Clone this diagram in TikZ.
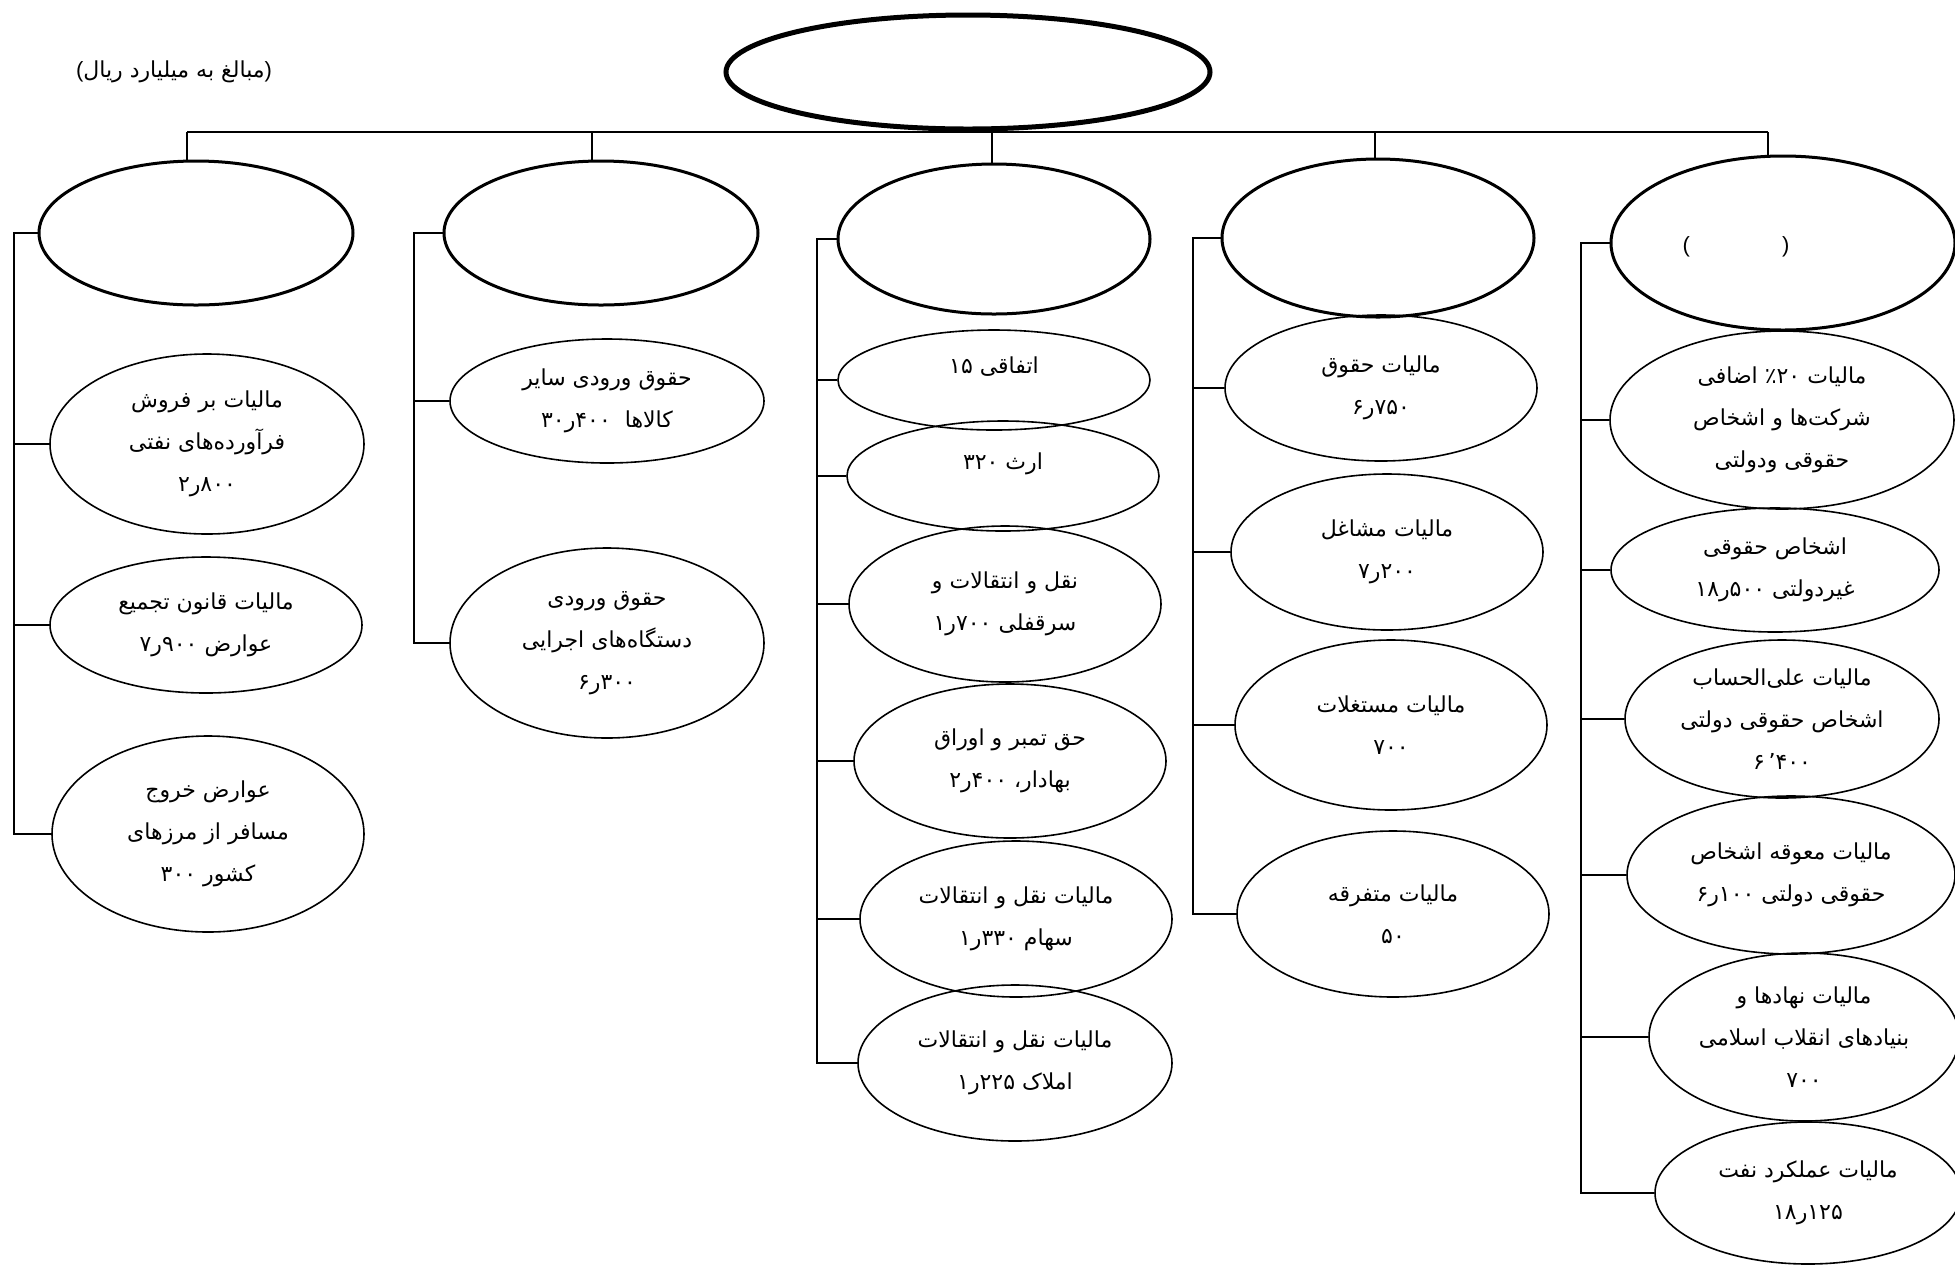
\documentclass[tikz,border=0pt]{standalone}
\usepackage{fontspec}
\usetikzlibrary{shapes.geometric}
\TeXXeTstate=1
\newfontfamily\arfont[Script=Arabic]{DejaVu Sans}
\newfontfamily\latfont{Liberation Sans}
\newcommand{\RL}[1]{\mbox{\beginR #1\endR}}
\newcommand{\dg}[1]{\mbox{#1}}
\newcommand{\sr}{\mbox{ر}}
\begin{document}
\begin{tikzpicture}[x=0.5pt,y=-0.5pt,
  root/.style={ellipse,draw,line width=2.5pt,inner sep=0pt},
  head/.style={ellipse,draw,line width=1.5pt,inner sep=0pt},
  leaf/.style={ellipse,draw,line width=0.8pt,inner sep=0pt,align=center,
    font=\arfont\fontsize{11}{21}\selectfont},
  lbl/.style={inner sep=0pt,font=\arfont\fontsize{11}{21}\selectfont},
  conn/.style={line width=1pt}]
\useasboundingbox (0,0) rectangle (1955,1266);
\fill[white] (0,0) rectangle (1955,1266);

% title note
\node[lbl] (note) at (174,72) {{\latfont(}\RL{مبالغ به میلیارد ریال}{\latfont)}};

% root
\node[root,minimum width=242pt,minimum height=57pt] (R) at (968,72) {};

% level 2
\node[head,minimum width=157pt,minimum height=72pt] (A) at (196,233) {};
\node[head,minimum width=157pt,minimum height=72pt] (B) at (601,233) {};
\node[head,minimum width=156pt,minimum height=75pt] (C) at (994,239) {};
\node[head,minimum width=156pt,minimum height=79pt] (D) at (1378,238) {};
\node[head,minimum width=172pt,minimum height=87pt] (E) at (1783,243) {};
\node[lbl] (Ep) at (1736,247) {\latfont(\hspace{46pt})};

% bus with ticks
\coordinate (ta) at (187,0);
\coordinate (tb) at (592,0);
\coordinate (tc) at (992,0);
\coordinate (td) at (1375,0);
\coordinate (te) at (1768,0);
\draw[conn] (ta |- R.south) -- (te |- R.south);
\draw[conn] (A.north -| ta) -- (ta |- R.south);
\draw[conn] (B.north -| tb) -- (tb |- R.south);
\draw[conn] (C.north -| tc) -- (tc |- R.south);
\draw[conn] (D.north -| td) -- (td |- R.south);
\draw[conn] (E.north -| te) -- (te |- R.south);

% column A
\node[leaf,minimum width=157pt,minimum height=90pt] (A1) at (207,444)
  {\RL{مالیات بر فروش}\\ \RL{فرآورده‌های نفتی}\\ \dg{۲}\sr\dg{۸۰۰}};
\node[leaf,minimum width=156pt,minimum height=68pt] (A2) at (206,625)
  {\RL{مالیات قانون تجمیع}\\ \dg{۷}\sr\dg{۹۰۰}\ \RL{عوارض}};
\node[leaf,minimum width=156pt,minimum height=98pt] (A3) at (208,834)
  {\RL{عوارض خروج}\\ \RL{مسافر از مرزهای}\\ \dg{۳۰۰}\ \RL{کشور}};

% column B
\node[leaf,minimum width=157pt,minimum height=62pt] (B1) at (607,401)
  {\RL{حقوق ورودی سایر}\\ \dg{۳۰}\sr\dg{۴۰۰}\ \ \RL{کالاها}};
\node[leaf,minimum width=157pt,minimum height=95pt] (B2) at (607,643)
  {\RL{حقوق ورودی}\\ \RL{دستگاه‌های اجرایی}\\ \dg{۶}\sr\dg{۳۰۰}};

% column C
\node[leaf,minimum width=156pt,minimum height=50pt] (C1) at (994,380)
  {\dg{۱۵}\ \RL{اتفاقی}\\[-6pt]\mbox{}};
\node[leaf,minimum width=156pt,minimum height=55pt] (C2) at (1003,476)
  {\dg{۳۲۰}\ \RL{ارث}\\[-6pt]\mbox{}};
\node[leaf,minimum width=156pt,minimum height=78pt] (C3) at (1005,604)
  {\RL{نقل و انتقالات و}\\ \dg{۱}\sr\dg{۷۰۰}\ \RL{سرقفلی}};
\node[leaf,minimum width=156pt,minimum height=77pt] (C4) at (1010,761)
  {\RL{حق تمبر و اوراق}\\ \dg{۲}\sr\dg{۴۰۰}\ \RL{بهادار،}};
\node[leaf,minimum width=156pt,minimum height=78pt] (C5) at (1016,919)
  {\RL{مالیات نقل و انتقالات}\\ \dg{۱}\sr\dg{۳۳۰}\ \RL{سهام}};
\node[leaf,minimum width=157pt,minimum height=78pt] (C6) at (1015,1063)
  {\RL{مالیات نقل و انتقالات}\\ \dg{۱}\sr\dg{۲۲۵}\ \RL{املاک}};

% column D
\node[leaf,minimum width=156pt,minimum height=73pt] (D1) at (1381,388)
  {\RL{مالیات حقوق}\\ \dg{۶}\sr\dg{۷۵۰}};
\node[leaf,minimum width=156pt,minimum height=78pt] (D2) at (1387,552)
  {\RL{مالیات مشاغل}\\ \dg{۷}\sr\dg{۲۰۰}};
\node[leaf,minimum width=156pt,minimum height=85pt] (D3) at (1391,725)
  {\RL{مالیات مستغلات}\\ \dg{۷۰۰}};
\node[leaf,minimum width=156pt,minimum height=83pt] (D4) at (1393,914)
  {\RL{مالیات متفرقه}\\ \dg{۵۰}};

% column E
\node[leaf,minimum width=172pt,minimum height=89pt] (E1) at (1782,420)
  {\RL{اضافی}\ \mbox{٪}\dg{۲۰}\ \RL{مالیات}\\ \RL{شرکت‌ها و اشخاص}\\ \RL{حقوقی ودولتی}};
\node[leaf,minimum width=164pt,minimum height=62pt] (E2) at (1775,570)
  {\RL{اشخاص حقوقی}\\ \dg{۱۸}\sr\dg{۵۰۰}\ \RL{غیردولتی}};
\node[leaf,minimum width=157pt,minimum height=79pt] (E3) at (1782,719)
  {\RL{مالیات علی‌الحساب}\\ \RL{اشخاص حقوقی دولتی}\\ \dg{۶}\,\mbox{٬}\dg{۴۰۰}};
\node[leaf,minimum width=164pt,minimum height=79pt] (E4) at (1791,875)
  {\RL{مالیات معوقه اشخاص}\\ \dg{۶}\sr\dg{۱۰۰}\ \RL{حقوقی دولتی}};
\node[leaf,minimum width=155pt,minimum height=84pt] (E5) at (1804,1037)
  {\RL{مالیات نهادها و}\\ \RL{بنیادهای انقلاب اسلامی}\\ \dg{۷۰۰}};
\node[leaf,minimum width=153pt,minimum height=71pt] (E6) at (1808,1193)
  {\RL{مالیات عملکرد نفت}\\ \dg{۱۸}\sr\dg{۱۲۵}};

% column brackets
\coordinate (xa) at (14,0);
\coordinate (xb) at (414,0);
\coordinate (xc) at (817,0);
\coordinate (xd) at (1193,0);
\coordinate (xe) at (1581,0);
\draw[conn] (A.west) -- (A.west -| xa) |- (A3.west);
\foreach \c in {A1,A2} \draw[conn] (\c.west) -- (\c.west -| xa);
\draw[conn] (B.west) -- (B.west -| xb) |- (B2.west);
\draw[conn] (B1.west) -- (B1.west -| xb);
\draw[conn] (C.west) -- (C.west -| xc) |- (C6.west);
\foreach \c in {C1,C2,C3,C4,C5} \draw[conn] (\c.west) -- (\c.west -| xc);
\draw[conn] (D.west) -- (D.west -| xd) |- (D4.west);
\foreach \c in {D1,D2,D3} \draw[conn] (\c.west) -- (\c.west -| xd);
\draw[conn] (E.west) -- (E.west -| xe) |- (E6.west);
\foreach \c in {E1,E2,E3,E4,E5} \draw[conn] (\c.west) -- (\c.west -| xe);
\end{tikzpicture}
\end{document}
